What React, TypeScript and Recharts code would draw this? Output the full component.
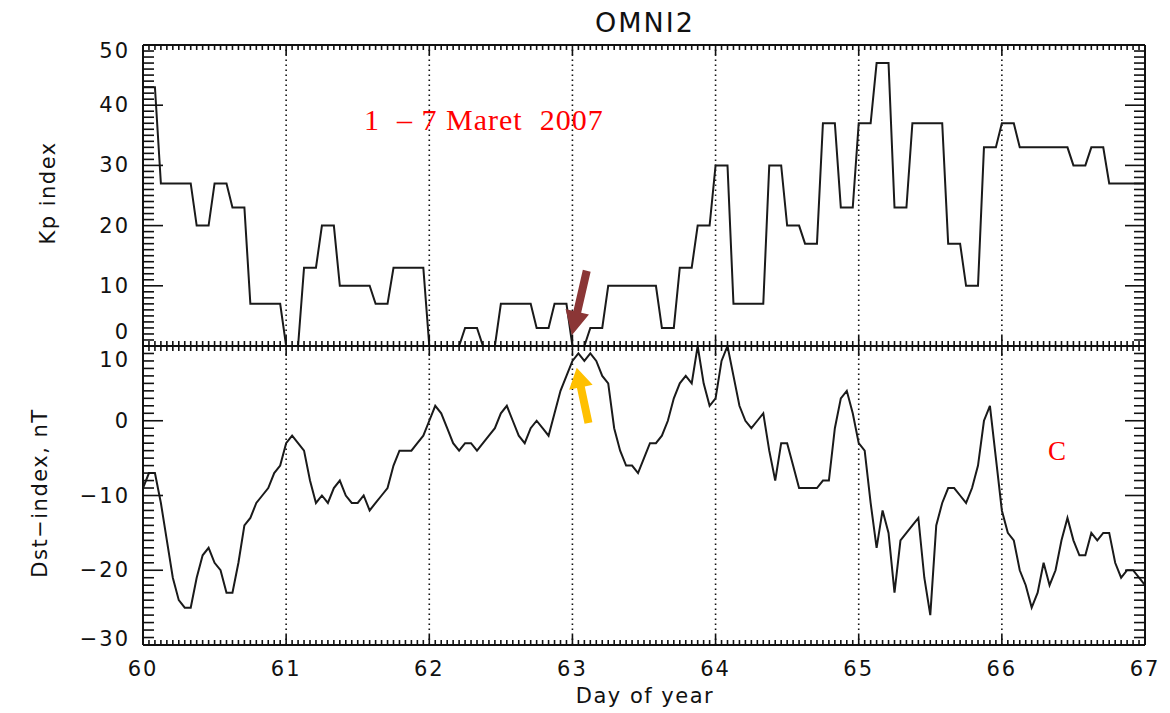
import React from 'react';
import { LineChart, Line, XAxis, YAxis, ReferenceLine } from 'recharts';

// ---------- data ----------
const START_DAY = 60;
const dayTicks = [60, 61, 62, 63, 64, 65, 66, 67];
const gridDays = [61, 62, 63, 64, 65, 66];
const kpTicks = [0, 10, 20, 30, 40, 50];
const dstTicks = [-30, -20, -10, 0, 10];

// Kp*10, hourly (OMNI2 repeats each 3-hour value), 1-7 March 2007 (DOY 60-67)
const kpHourly = [
  43, 43, 43, 27, 27, 27, 27, 27, 27, 20, 20, 20, 27, 27, 27, 23, 23, 23, 7, 7, 7, 7, 7, 7,
  0, 0, 0, 13, 13, 13, 20, 20, 20, 10, 10, 10, 10, 10, 10, 7, 7, 7, 13, 13, 13, 13, 13, 13,
  0, 0, 0, 0, 0, 0, 3, 3, 3, 0, 0, 0, 7, 7, 7, 7, 7, 7, 3, 3, 3, 7, 7, 7,
  0, 0, 0, 3, 3, 3, 10, 10, 10, 10, 10, 10, 10, 10, 10, 3, 3, 3, 13, 13, 13, 20, 20, 20,
  30, 30, 30, 7, 7, 7, 7, 7, 7, 30, 30, 30, 20, 20, 20, 17, 17, 17, 37, 37, 37, 23, 23, 23,
  37, 37, 37, 47, 47, 47, 23, 23, 23, 37, 37, 37, 37, 37, 37, 17, 17, 17, 10, 10, 10, 33, 33, 33,
  37, 37, 37, 33, 33, 33, 33, 33, 33, 33, 33, 33, 30, 30, 30, 33, 33, 33, 27, 27, 27, 27, 27, 27,
  27,
];

// Dst (nT), hourly
const dstHourly = [
  -9, -7, -7, -11, -16, -21, -24, -25, -25, -21, -18, -17, -19, -20, -23, -23, -19, -14, -13, -11, -10, -9, -7, -6,
  -3, -2, -3, -4, -8, -11, -10, -11, -9, -8, -10, -11, -11, -10, -12, -11, -10, -9, -6, -4, -4, -4, -3, -2,
  0, 2, 1, -1, -3, -4, -3, -3, -4, -3, -2, -1, 1, 2, 0, -2, -3, -1, 0, -1, -2, 1, 4, 6,
  8, 9, 8, 9, 8, 6, 5, -1, -4, -6, -6, -7, -5, -3, -3, -2, 0, 3, 5, 6, 5, 10, 5, 2,
  3, 8, 10, 6, 2, 0, -1, 0, 1, -4, -8, -3, -3, -6, -9, -9, -9, -9, -8, -8, -1, 3, 4, 1,
  -3, -4, -11, -17, -12, -15, -23, -16, -15, -14, -13, -21, -26, -14, -11, -9, -9, -10, -11, -9, -6, 0, 2, -5,
  -12, -15, -16, -20, -22, -25, -23, -19, -22, -20, -16, -13, -16, -18, -18, -15, -16, -15, -15, -19, -21, -20, -20, -21,
  -22,
];

const kpData = kpHourly.map((kp, i) => ({ t: START_DAY + i / 24, kp }));
const dstData = dstHourly.map((dst, i) => ({ t: START_DAY + i / 24, dst }));

// minor tick positions (axis decoration)
const hourTicks = Array.from({ length: 7 * 24 + 1 }, (_, i) => START_DAY + i / 24);
const kpMinor = Array.from({ length: 51 }, (_, i) => i);
const dstMinor = Array.from({ length: 41 }, (_, i) => -30 + i);

// ---------- styling ----------
const FONT = "'DejaVu Sans', 'Liberation Sans', sans-serif";
const SERIF = "'Liberation Serif', 'DejaVu Serif', serif";
const INK = '#111';
const W = 1170;
const PLOT_LEFT = 143;
const PLOT_RIGHT = 1145;
const KP_TOP = 45;
const MID = 346;
const DST_BOTTOM = 645;
const AX = 1; // size reserved by each axis

const isMajor = (v: number, step: number) => Math.abs(v / step - Math.round(v / step)) < 1e-6;
const fmt = (v: number) => (v < 0 ? '\u2212' + Math.abs(v) : String(v));

function xTick(side: 'top' | 'bottom', labels: boolean) {
  return (props: any) => {
    const { x, y, payload } = props;
    const v = payload.value as number;
    const major = isMajor(v, 1);
    const len = major ? 10 : 5;
    const dir = side === 'bottom' ? -1 : 1;
    return (
      <g>
        <line x1={x} y1={y} x2={x} y2={y + dir * len} stroke={INK} strokeWidth={1.6} />
        {labels && major && (
          <text x={x} y={y + 31} textAnchor="middle" fontFamily={FONT} fontSize={21} letterSpacing={2} fill={INK}>
            {Math.round(v)}
          </text>
        )}
      </g>
    );
  };
}

function yTick(side: 'left' | 'right', labels: boolean, min: number, max: number, dyMin: number, dyMax: number) {
  return (props: any) => {
    const { x, y, payload } = props;
    const v = payload.value as number;
    const major = isMajor(v, 10);
    const len = major ? 20 : 11;
    const dir = side === 'left' ? 1 : -1;
    let dy = 0;
    if (v === max) dy = dyMax;
    if (v === min) dy = dyMin;
    return (
      <g>
        <line x1={x} y1={y} x2={x + dir * len} y2={y} stroke={INK} strokeWidth={1.6} />
        {labels && major && (
          <text
            x={x - 13}
            y={y + dy}
            textAnchor="end"
            dominantBaseline="central"
            fontFamily={FONT}
            fontSize={21}
            letterSpacing={2}
            fill={INK}
          >
            {fmt(v)}
          </text>
        )}
      </g>
    );
  };
}

function arrowShape(color: string, headLen: number, headW: number, shaftW: number) {
  return (props: any) => {
    const { x1, y1, x2, y2 } = props;
    const dx = x2 - x1;
    const dy = y2 - y1;
    const L = Math.hypot(dx, dy) || 1;
    const ux = dx / L;
    const uy = dy / L;
    const nx = -uy;
    const ny = ux;
    const bx = x2 - ux * headLen;
    const by = y2 - uy * headLen;
    const pts = [
      [x1 + nx * shaftW, y1 + ny * shaftW],
      [bx + nx * shaftW, by + ny * shaftW],
      [bx + nx * headW, by + ny * headW],
      [x2, y2],
      [bx - nx * headW, by - ny * headW],
      [bx - nx * shaftW, by - ny * shaftW],
      [x1 - nx * shaftW, y1 - ny * shaftW],
    ];
    return <polygon points={pts.map((p) => p.join(',')).join(' ')} fill={color} />;
  };
}

const axisLine = { stroke: INK, strokeWidth: 2 };

function axes(yDomain: number[], yMinor: number[], xLabels: boolean, dyMin: number, dyMax: number) {
  return [
    <XAxis
      key="xb"
      xAxisId="b"
      dataKey="t"
      type="number"
      domain={[60, 67]}
      ticks={hourTicks}
      interval={0}
      height={AX}
      tickSize={0}
      tickMargin={0}
      tickLine={false}
      axisLine={axisLine}
      tick={xTick('bottom', xLabels)}
      allowDataOverflow
    />,
    <XAxis
      key="xt"
      xAxisId="t"
      dataKey="t"
      orientation="top"
      type="number"
      domain={[60, 67]}
      ticks={hourTicks}
      interval={0}
      height={AX}
      tickSize={0}
      tickMargin={0}
      tickLine={false}
      axisLine={axisLine}
      tick={xTick('top', false)}
      allowDataOverflow
    />,
    <YAxis
      key="yl"
      yAxisId="l"
      type="number"
      domain={yDomain}
      ticks={yMinor}
      interval={0}
      width={AX}
      tickSize={0}
      tickMargin={0}
      tickLine={false}
      axisLine={axisLine}
      tick={yTick('left', true, yDomain[0], yDomain[1], dyMin, dyMax)}
      allowDataOverflow
    />,
    <YAxis
      key="yr"
      yAxisId="r"
      orientation="right"
      type="number"
      domain={yDomain}
      ticks={yMinor}
      interval={0}
      width={AX}
      tickSize={0}
      tickMargin={0}
      tickLine={false}
      axisLine={axisLine}
      tick={yTick('right', false, yDomain[0], yDomain[1], dyMin, dyMax)}
      allowDataOverflow
    />,
  ];
}

export default function App() {
  const kpH = MID + 8;
  const dstH = 713;
  const rightMargin = W - PLOT_RIGHT - AX;
  return (
    <div style={{ position: 'absolute', left: 0, top: 0, width: W, height: 713, background: '#fff' }}>
      {/* Kp panel */}
      <div style={{ position: 'absolute', left: 0, top: 0 }}>
        <LineChart
          width={W}
          height={kpH}
          data={kpData}
          margin={{ top: KP_TOP - AX, right: rightMargin, bottom: kpH - MID - AX, left: PLOT_LEFT - AX }}
        >
          {axes([0, 50], kpMinor, false, -14, 6)}
          {gridDays.map((d) => (
            <ReferenceLine
              key={'kg' + d}
              xAxisId="b"
              yAxisId="l"
              x={d}
              stroke={INK}
              strokeWidth={1.6}
              strokeDasharray="1.5 3.5"
            />
          ))}
          <Line
            xAxisId="b"
            yAxisId="l"
            dataKey="kp"
            type="linear"
            stroke="#1a1a1a"
            strokeWidth={2}
            dot={false}
            isAnimationActive={false}
          />
          <ReferenceLine
            xAxisId="b"
            yAxisId="l"
            segment={[
              { x: 63.1, y: 12.5 },
              { x: 62.996, y: 1.8 },
            ]}
            ifOverflow="visible"
            shape={arrowShape('#8B3636', 24, 12, 4)}
          />
        </LineChart>
      </div>

      {/* Dst panel */}
      <div style={{ position: 'absolute', left: 0, top: 0 }}>
        <LineChart
          width={W}
          height={dstH}
          data={dstData}
          margin={{ top: MID - AX, right: rightMargin, bottom: dstH - DST_BOTTOM - AX, left: PLOT_LEFT - AX }}
        >
          {axes([-30, 10], dstMinor, true, -6, 14)}
          {gridDays.map((d) => (
            <ReferenceLine
              key={'dg' + d}
              xAxisId="b"
              yAxisId="l"
              x={d}
              stroke={INK}
              strokeWidth={1.6}
              strokeDasharray="1.5 3.5"
            />
          ))}
          <Line
            xAxisId="b"
            yAxisId="l"
            dataKey="dst"
            type="linear"
            stroke="#1a1a1a"
            strokeWidth={2}
            dot={false}
            isAnimationActive={false}
          />
          <ReferenceLine
            xAxisId="b"
            yAxisId="l"
            segment={[
              { x: 63.112, y: -0.3 },
              { x: 63.03, y: 7.1 },
            ]}
            ifOverflow="visible"
            shape={arrowShape('#FFC000', 20, 12, 4)}
          />
        </LineChart>
      </div>

      {/* titles and annotations */}
      <svg
        width={W}
        height={713}
        style={{ position: 'absolute', left: 0, top: 0, pointerEvents: 'none' }}
      >
        <text x={645} y={32} textAnchor="middle" fontFamily={FONT} fontSize={27} letterSpacing={2} fill={INK}>
          OMNI2
        </text>
        <text x={645} y={703} textAnchor="middle" fontFamily={FONT} fontSize={21} letterSpacing={1.5} fill={INK}>
          Day of year
        </text>
        <text
          transform="translate(48,193) rotate(-90)"
          textAnchor="middle"
          dominantBaseline="central"
          fontFamily={FONT}
          fontSize={21}
          letterSpacing={1.5}
          fill={INK}
        >
          Kp index
        </text>
        <text
          transform="translate(40,493) rotate(-90)"
          textAnchor="middle"
          dominantBaseline="central"
          fontFamily={FONT}
          fontSize={21}
          letterSpacing={1.5}
          fill={INK}
        >
          {'Dst\u2212index, nT'}
        </text>
        <text x={364} y={130} fontFamily={SERIF} fontSize={30} letterSpacing={1} fill="#FF0000" xmlSpace="preserve">
          {'1  \u2013 7 Maret  2007'}
        </text>
        <text x={1057} y={460} textAnchor="middle" fontFamily={SERIF} fontSize={27} fill="#FF0000">
          C
        </text>
      </svg>
    </div>
  );
}
